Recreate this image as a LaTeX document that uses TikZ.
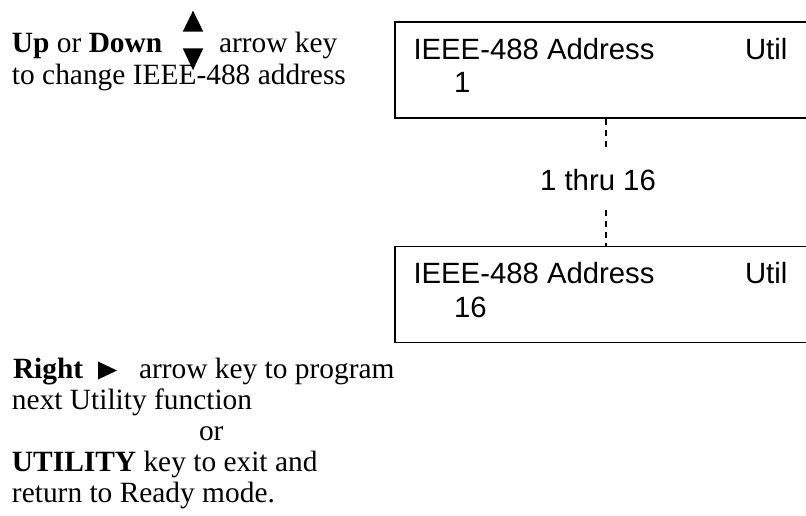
\documentclass[tikz,border=0pt]{standalone}
\usepackage{fontspec}
\setmainfont{Liberation Serif}
\newfontfamily\arialfont{Liberation Sans}
\begin{document}
\begin{tikzpicture}[x=1pt,y=-1pt,
  serif/.style={anchor=base west,inner sep=0pt,outer sep=0pt,font=\fontsize{29.4}{32}\selectfont},
  sans/.style={anchor=base west,inner sep=0pt,outer sep=0pt,font=\arialfont\fontsize{29.3}{32}\selectfont},
  lcdbox/.style={draw,line width=1.8pt,rectangle,anchor=north west,inner sep=0pt,minimum width=440pt,minimum height=96pt},
  conn/.style={line width=1.4pt,dash pattern=on 6pt off 5pt},
  tri/.style={fill=black}]
\useasboundingbox (0,0) rectangle (806,516);
\clip (0,0) rectangle (806,516);
% top-left instructions
\node[serif] (up) at (12,53) {\textbf{Up} or \textbf{Down}};
\node[serif] (ak) at (219,53) {arrow key};
\node[serif] (tc) at (12,85) {to change IEEE-488 address};
\fill[tri] (193,10.7) -- (203.3,31.7) -- (182.7,31.7) -- cycle;
\fill[tri] (182.7,48.3) -- (203.3,48.3) -- (193,70) -- cycle;
% LCD boxes
\node[lcdbox] (box1) at (394,21.5) {};
\node[sans] (b1l1) at (413.5,60) {IEEE-488 Address};
\node[sans] (b1u) at (745,60) {Util};
\node[sans] (b1l2) at (454,93) {1};
\node[lcdbox] (box2) at (394,245.5) {};
\node[sans] (b2l1) at (413.5,283) {IEEE-488 Address};
\node[sans] (b2u) at (745,283) {Util};
\node[sans] (b2l2) at (454,317) {16};
% range label and dashed connectors
\node[sans,anchor=center] (rng) at (598,180) {1 thru 16};
\coordinate (d1) at (606,150);
\coordinate (d2) at (606,210);
\draw[conn] (d1 |- box1.south) -- (d1);
\draw[conn] (d2) -- (d2 |- box2.north);
% bottom-left instructions
\node[serif] (r1) at (13,378) {\textbf{Right}};
\fill[tri] (98,361.5) -- (117,370.5) -- (98,379.5) -- cycle;
\node[serif] (r1b) at (139,378) {arrow key to program};
\node[serif] (r2) at (12,409) {next Utility function};
\node[serif] (r3) at (199,440) {or};
\node[serif] (r4) at (12,471) {\textbf{UTILITY} key to exit and};
\node[serif] (r5) at (12,502) {return to Ready mode.};
\end{tikzpicture}
\end{document}
